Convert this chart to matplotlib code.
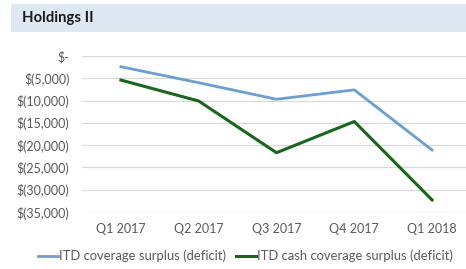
import matplotlib.pyplot as plt
from matplotlib.patches import Rectangle
from matplotlib.ticker import FuncFormatter

# quarters and the two surplus (deficit) series
quarters = ['Q1 2017', 'Q2 2017', 'Q3 2017', 'Q4 2017', 'Q1 2018']
coverage = [-2400, -6000, -9700, -7600, -21100]
cash_coverage = [-5400, -10100, -21700, -14700, -32300]

plt.rcParams['font.family'] = ['Lato', 'DejaVu Sans']

fig = plt.figure(figsize=(4.66, 2.69), dpi=100)

# light blue title band
band = Rectangle((11 / 466, 1 - 32 / 269), 1, 28 / 269, transform=fig.transFigure,
                 facecolor='#dde8f3', edgecolor='none', zorder=0)
fig.patches.append(band)
fig.text(22 / 466, 1 - 18 / 269, 'Holdings II', fontsize=10.7, fontweight='bold',
         color='#1a1a1a', va='center', ha='left')

ax = fig.add_axes([82 / 466, 1 - 212 / 269, 389 / 466, 156 / 269])
x = range(len(quarters))
ax.plot(x, coverage, color='#6b9fd3', lw=2.0, label='ITD coverage surplus (deficit)')
ax.plot(x, cash_coverage, color='#17661b', lw=2.2, label='ITD cash coverage surplus (deficit)')

ax.set_xlim(-0.5, 4.5)
ax.set_ylim(-35000, 0)
ax.set_yticks(range(-35000, 1, 5000))
ax.set_xticks(list(x))
ax.set_xticklabels(quarters)


def money(v, pos):
    if v == 0:
        return '$-'
    return '$({:,.0f})'.format(abs(v))


ax.yaxis.set_major_formatter(FuncFormatter(money))
ax.grid(axis='y', color='#d9d9d9', lw=0.9)
ax.set_axisbelow(True)
for s in ax.spines.values():
    s.set_visible(False)
ax.tick_params(axis='both', length=0, labelsize=9, colors='#595959')
ax.tick_params(axis='x', pad=8)
ax.tick_params(axis='y', pad=9)

fig.legend(loc='center', bbox_to_anchor=(0.527, 1 - 256 / 269), ncol=2, frameon=False,
           fontsize=9.4, handlelength=1.5, handletextpad=0.1, columnspacing=0.8,
           labelcolor='#595959')

fig.savefig('out.png', dpi=100)
